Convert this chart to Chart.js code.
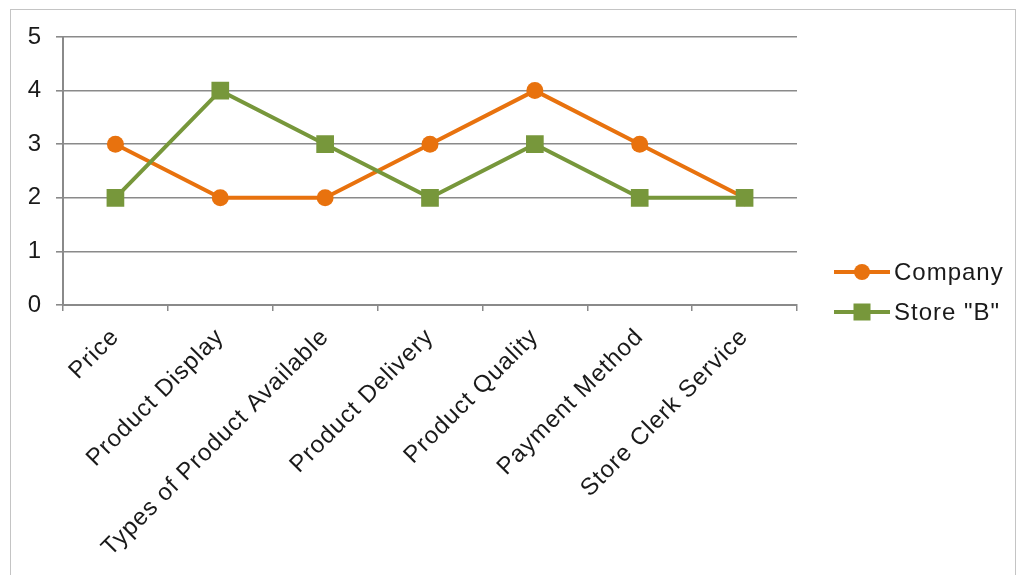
<!DOCTYPE html>
<html>
<head>
<meta charset="utf-8">
<script src="https://cdn.jsdelivr.net/npm/chart.js@4"></script>
<style>
  html, body { margin: 0; padding: 0; background: #fff; }
  body { width: 1019px; height: 575px; position: relative; overflow: hidden; font-family: "Liberation Sans", Arial, sans-serif; }
  #frame { position: absolute; left: 10px; top: 9px; width: 1006px; height: 600px; border: 1.5px solid #c4c4c4; box-sizing: border-box; }
  #c { position: absolute; left: 0; top: 0; }
  #legend { position: absolute; left: 834px; top: 252px; }
  .item { display: flex; align-items: center; height: 40px; font-size: 24px; color: #1a1a1a; letter-spacing: 1px; }
  .item svg { margin-right: 4px; }
</style>
</head>
<body>
<div id="frame"></div>
<canvas id="c" width="1019" height="575"></canvas>
<div id="legend"></div>
<script>
const categories = ["Price", "Product Display", "Types of Product Available", "Product Delivery", "Product Quality", "Payment Method", "Store Clerk Service"];
const companyValues = [3, 2, 2, 3, 4, 3, 2];
const storeBValues = [2, 4, 3, 2, 3, 2, 2];
const seriesNames = ["Company", "Store \"B\""];
const yTicks = [0, 1, 2, 3, 4, 5];

const ORANGE = "#E8720E";
const GREEN = "#77973B";
const GRID = "#8a8a8a";
const FONT = { family: "'Liberation Sans', Arial, sans-serif", size: 24 };

const spacingPlugin = {
  id: "spacing",
  beforeUpdate(chart) { chart.ctx.letterSpacing = "1px"; },
  beforeLayout(chart) { chart.ctx.letterSpacing = "1px"; },
  beforeDraw(chart) { chart.ctx.letterSpacing = "1px"; }
};

const chart = new Chart(document.getElementById("c"), {
  type: "line",
  data: {
    labels: categories,
    datasets: [
      {
        label: seriesNames[0], data: companyValues, order: 1,
        borderColor: ORANGE, backgroundColor: ORANGE, borderWidth: 4,
        pointStyle: "circle", pointRadius: 8.5, pointBorderWidth: 0, pointBackgroundColor: ORANGE,
        tension: 0
      },
      {
        label: seriesNames[1], data: storeBValues, order: 0,
        borderColor: GREEN, backgroundColor: GREEN, borderWidth: 4,
        pointStyle: "rect", pointRadius: 12.5, pointBorderWidth: 0, pointBackgroundColor: GREEN,
        tension: 0
      }
    ]
  },
  options: {
    responsive: false,
    animation: false,
    devicePixelRatio: 1,
    layout: { padding: { top: 37, right: 222, left: 0, bottom: 0 } },
    plugins: { legend: { display: false }, tooltip: { enabled: false } },
    scales: {
      x: {
        type: "category",
        offset: true,
        grid: { offset: true, drawOnChartArea: false, drawTicks: true, tickLength: 6, color: GRID, lineWidth: 1.5 },
        border: { display: true, color: GRID, width: 2 },
        ticks: { minRotation: 45, maxRotation: 45, autoSkip: false, font: FONT, color: "#1a1a1a", padding: 12 },
        afterFit(scale) { scale.height = 270; }
      },
      y: {
        min: 0, max: 5,
        afterBuildTicks(scale) { scale.ticks = yTicks.map(v => ({ value: v })); },
        grid: { color: GRID, lineWidth: 1.6, drawTicks: true, tickLength: 7 },
        border: { display: true, color: GRID, width: 2 },
        ticks: { font: FONT, color: "#1a1a1a", padding: 14 },
        afterFit(scale) { scale.width = 63; }
      }
    }
  },
  plugins: [spacingPlugin]
});

// HTML legend built from the datasets
const legend = document.getElementById("legend");
chart.data.datasets.forEach(ds => {
  const item = document.createElement("div");
  item.className = "item";
  const marker = ds.pointStyle === "rect"
    ? `<rect x="19.5" y="11.5" width="17" height="17" fill="${ds.borderColor}"/>`
    : `<circle cx="28" cy="20" r="8" fill="${ds.borderColor}"/>`;
  item.innerHTML = `<svg width="56" height="40" viewBox="0 0 56 40"><line x1="0" y1="20" x2="56" y2="20" stroke="${ds.borderColor}" stroke-width="4"/>${marker}</svg><span>${ds.label}</span>`;
  legend.appendChild(item);
});
</script>
</body>
</html>
